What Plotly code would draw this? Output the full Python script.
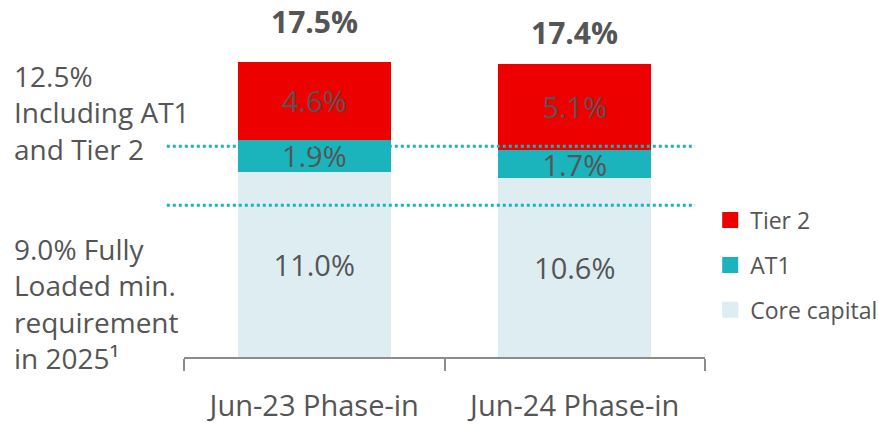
import plotly.graph_objects as go

# Capital ratio composition (%)
categories = ["Jun-23 Phase-in", "Jun-24 Phase-in"]
core_capital = [11.0, 10.6]
at1 = [1.9, 1.7]
tier2 = [4.6, 5.1]

# Regulatory reference levels (%)
req_total = 12.5
req_fully_loaded = 9.0

TEXT = "#555555"
FONT = "Open Sans"

totals = [round(c + a + t, 1) for c, a, t in zip(core_capital, at1, tier2)]

fig = go.Figure()
series = [
    ("Core capital", core_capital, "#DEEDF2"),
    ("AT1", at1, "#1BB3BC"),
    ("Tier 2", tier2, "#EC0000"),
]
for name, vals, color in series:
    fig.add_trace(go.Bar(
        x=categories, y=vals, name=name, showlegend=False,
        marker=dict(color=color, line=dict(width=0)),
        text=[f"{v:.1f}%" for v in vals],
        textposition="inside", insidetextanchor="middle",
        constraintext="none", cliponaxis=False,
        textfont=dict(family=FONT, size=29, color=TEXT),
        hoverinfo="skip",
    ))

# Legend entries with larger square swatches
for name, _, color in reversed(series):
    fig.add_trace(go.Scatter(
        x=[None], y=[None], mode="markers", name=name,
        legendgroup=name,
        marker=dict(symbol="square", size=18, color=color),
        hoverinfo="skip",
    ))

# Total labels above each stack
for cat, tot, shift in zip(categories, totals, [41, 31]):
    fig.add_annotation(
        x=cat, y=tot, text=f"<b>{tot:.1f}%</b>", showarrow=False,
        yshift=shift, font=dict(family=FONT, size=30, color=TEXT),
    )

# Dotted requirement lines
for level in (req_total, req_fully_loaded):
    fig.add_shape(
        type="line", xref="paper", yref="y",
        x0=-0.033, x1=0.981, y0=level, y1=level,
        line=dict(color="#1BB3BC", width=3, dash="dot"),
        layer="above",
    )

fig.add_annotation(
    xref="paper", yref="paper", x=-0.331, y=0.7255, xanchor="left", yanchor="middle",
    align="left", showarrow=False,
    text=f"{req_total:.1f}%<br>Including AT1<br>and Tier 2",
    font=dict(family=FONT, size=28, color=TEXT),
)
fig.add_annotation(
    xref="paper", yref="paper", x=-0.331, y=0.16, xanchor="left", yanchor="middle",
    align="left", showarrow=False,
    text=f"{req_fully_loaded:.1f}% Fully<br>Loaded min.<br>requirement<br>in 2025¹",
    font=dict(family=FONT, size=28, color=TEXT),
)

fig.update_layout(
    barmode="stack",
    bargap=0.414,
    width=879, height=425,
    margin=dict(l=184, r=174, t=20, b=68, autoexpand=False),
    paper_bgcolor="white", plot_bgcolor="white",
    showlegend=True,
    legend=dict(
        x=1.01, xanchor="left", y=0.47, yanchor="top",
        traceorder="grouped",
        font=dict(family=FONT, size=23, color=TEXT),
        tracegroupgap=12, itemsizing="trace",
        bgcolor="rgba(0,0,0,0)",
    ),
    font=dict(family=FONT, color=TEXT),
)
fig.update_xaxes(
    showline=True, linecolor="#8C8C8C", linewidth=2,
    ticks="outside", tickson="boundaries", ticklen=12, tickwidth=2, tickcolor="#8C8C8C",
    tickfont=dict(family=FONT, size=29, color=TEXT),
    ticklabelstandoff=22,
    showgrid=False,
)
fig.update_yaxes(range=[0, 20], visible=False, showgrid=False)

fig.write_html("out.html")
